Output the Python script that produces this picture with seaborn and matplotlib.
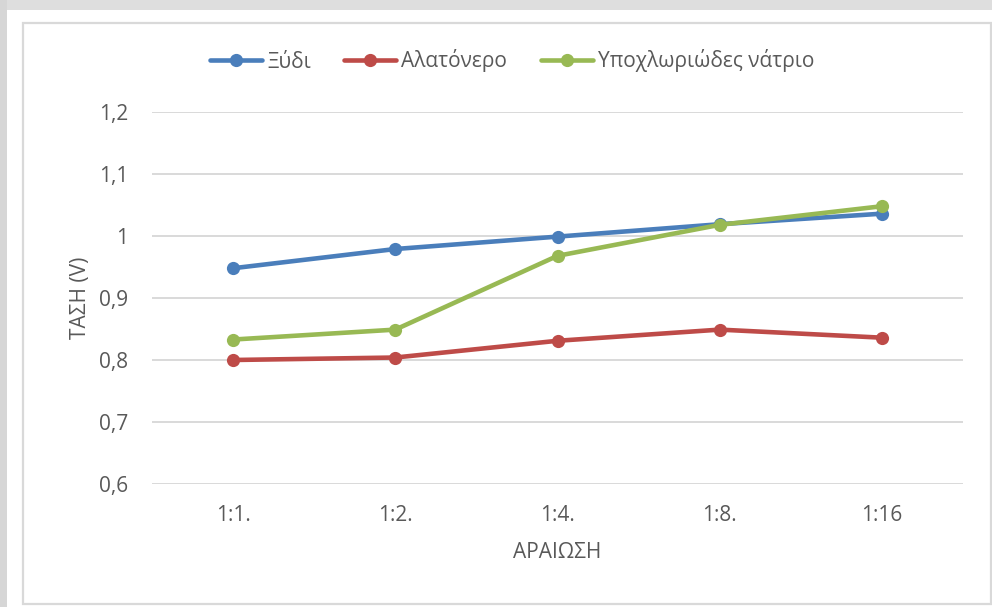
import matplotlib
matplotlib.use("Agg")
import matplotlib.pyplot as plt
from matplotlib.patches import Rectangle
from matplotlib.lines import Line2D
import numpy as np
import pandas as pd
import seaborn as sns

# Dilution ratios on the x axis
dilutions = ["1:1.", "1:2.", "1:4.", "1:8.", "1:16"]

# Measured voltage (V) per solution
xydi = [0.948, 0.979, 0.999, 1.019, 1.036]
alatonero = [0.800, 0.804, 0.831, 0.849, 0.836]
ypochloriodes = [0.833, 0.849, 0.968, 1.018, 1.048]

series_names = ["Ξύδι", "Αλατόνερο", "Υποχλωριώδες νάτριο"]
series_values = [xydi, alatonero, ypochloriodes]
colors = ["#4A7EBB", "#BE4B48", "#98B954"]

y_ticks = [0.6, 0.7, 0.8, 0.9, 1.0, 1.1, 1.2]

df = pd.DataFrame({
    "ΑΡΑΙΩΣΗ": dilutions * len(series_names),
    "ΤΑΣΗ (V)": np.concatenate(series_values),
    "Διάλυμα": np.repeat(series_names, len(dilutions)),
})

sns.set_theme(style="white")
plt.rcParams["font.family"] = ["Open Sans", "DejaVu Sans"]
text_color = "#595959"
font_size = 15

W, H = 992, 607
fig = plt.figure(figsize=(W / 100, H / 100), dpi=100, facecolor="white")

# Card shadow along the top and left edges
fig.add_artist(Rectangle((0, 1 - 10 / H), 1, 10 / H, transform=fig.transFigure,
                         facecolor="#dedede", edgecolor="none", zorder=0))
fig.add_artist(Rectangle((0, 0), 7 / W, 1, transform=fig.transFigure,
                         facecolor="#d6d6d6", edgecolor="none", zorder=0))
# Chart frame
fig.add_artist(Rectangle((23 / W, 3 / H), (991 - 23) / W, (604 - 23) / H,
                         transform=fig.transFigure, facecolor="none",
                         edgecolor="#d9d9d9", linewidth=1.6, zorder=1))

ax = fig.add_axes([152 / W, 1 - 484 / H, (963 - 152) / W, (484 - 112) / H])
ax.set_facecolor("none")

line_w = 3.3
marker_s = 9.5
sns.lineplot(data=df, x="ΑΡΑΙΩΣΗ", y="ΤΑΣΗ (V)", hue="Διάλυμα",
             palette=colors, marker="o", markersize=marker_s, markeredgewidth=0,
             linewidth=line_w, sort=False, ax=ax, legend=False, zorder=3)

ax.set_xlim(-0.5, len(dilutions) - 0.5)
ax.set_ylim(0.6, 1.2)
ax.set_yticks(y_ticks)
ax.set_yticklabels([f"{v:g}".replace(".", ",") for v in y_ticks])
ax.yaxis.grid(True, color="#d9d9d9", linewidth=1.4)
ax.set_axisbelow(True)
for s in ax.spines.values():
    s.set_visible(False)
ax.tick_params(axis="both", length=0, labelsize=font_size, labelcolor=text_color)
ax.tick_params(axis="y", pad=17)
ax.tick_params(axis="x", pad=15)

ax.set_xlabel("ΑΡΑΙΩΣΗ", fontsize=font_size, color=text_color, labelpad=12)
ax.set_ylabel("ΤΑΣΗ (V)", fontsize=font_size, color=text_color, labelpad=6)

handles = [Line2D([], [], color=c, linewidth=line_w, marker="o",
                  markersize=marker_s, markeredgewidth=0) for c in colors]
leg = fig.legend(handles, series_names, loc="center", ncol=3,
                 bbox_to_anchor=(512 / W, 1 - 61 / H), frameon=False,
                 fontsize=font_size, handlelength=2.5, handletextpad=0.25,
                 columnspacing=1.6)
for t in leg.get_texts():
    t.set_color(text_color)

fig.savefig("out.png", dpi=100, facecolor="white")
